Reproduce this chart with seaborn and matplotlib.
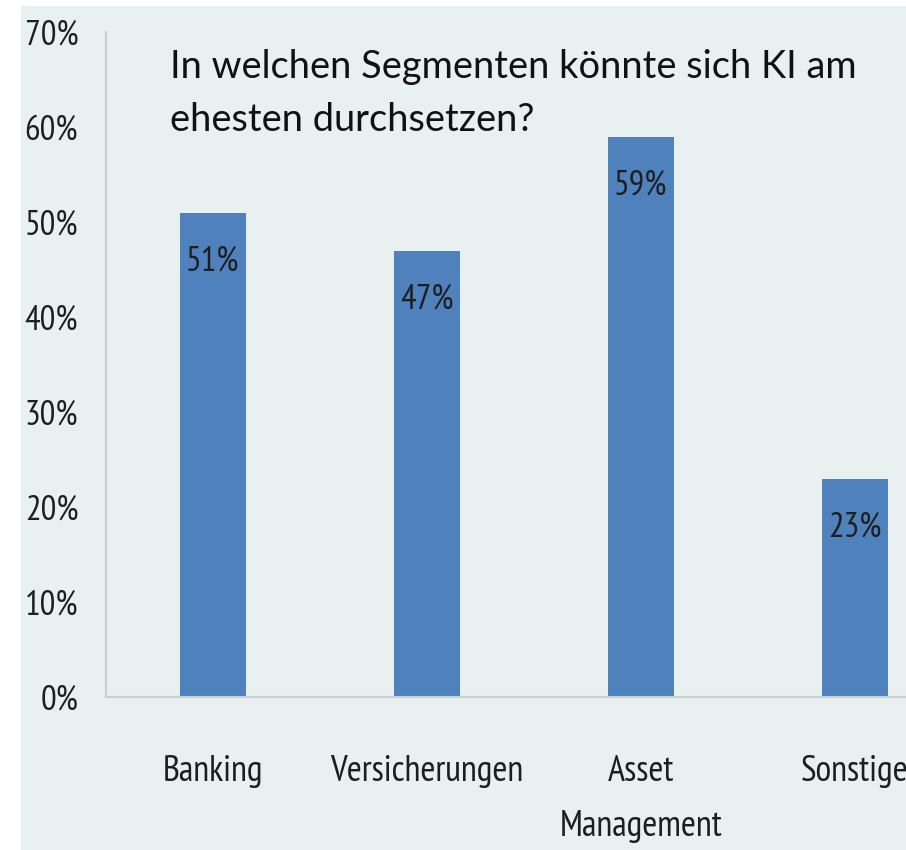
import matplotlib
matplotlib.use("Agg")
import matplotlib.pyplot as plt
from matplotlib import font_manager
from matplotlib.patches import Rectangle
import seaborn as sns
import pandas as pd

categories = ["Banking", "Versicherungen", "Asset\nManagement", "Sonstige"]
values = [51, 47, 59, 23]
value_labels = ["51%", "47%", "59%", "23%"]
yticks = [0, 10, 20, 30, 40, 50, 60, 70]
ytick_labels = ["0%", "10%", "20%", "30%", "40%", "50%", "60%", "70%"]
title = "In welchen Segmenten könnte sich KI am\nehesten durchsetzen?"

names = {f.name for f in font_manager.fontManager.ttflist}
def pick(*fams):
    for f in fams:
        if f in names:
            return f
    return "DejaVu Sans"
narrow = pick("PT Sans Narrow", "Barlow Condensed", "Roboto Condensed", "Liberation Sans Narrow")
title_font = pick("Lato", "Open Sans", "Noto Sans")

sns.set_theme(style="white")
plt.rcParams["font.family"] = [narrow, "DejaVu Sans"]

W, H = 906, 850
fig = plt.figure(figsize=(W / 100, H / 100), dpi=100)
fig.patch.set_facecolor("white")
panel = "#E9F0F0"
fig.patches.append(Rectangle((21 / W, 0), 1 - 21 / W, 1 - 6 / H, transform=fig.transFigure,
                             facecolor=panel, edgecolor="none", zorder=-10))

ax = fig.add_axes([106 / W, 153 / H, 1 - 106 / W, (697 - 32) / H])
ax.set_facecolor(panel)

df = pd.DataFrame({"cat": categories, "val": values})
sns.barplot(data=df, x="cat", y="val", color="#4F81BD", saturation=1, width=0.31,
            linewidth=0, ax=ax)

ax.set_ylim(0, 70)
ax.set_xlim(-0.5, 3.24)
ax.set_yticks(yticks)
ax.set_yticklabels(ytick_labels, fontsize=25, color="#1e1e1e")
ax.tick_params(axis="y", length=0, pad=20)
ax.tick_params(axis="x", length=0, pad=42, labelsize=26, labelcolor="#1e1e1e")
for lbl in ax.get_xticklabels():
    lbl.set_linespacing(1.85)
ax.set_xlabel("")
ax.set_ylabel("")
for s in ["top", "right"]:
    ax.spines[s].set_visible(False)
for s in ["left", "bottom"]:
    ax.spines[s].set_color("#C9CFCF")
    ax.spines[s].set_linewidth(1.5)

for i, (v, t) in enumerate(zip(values, value_labels)):
    ax.annotate(t, xy=(i, v), xytext=(0, -49), textcoords="offset pixels",
                ha="center", va="center", fontsize=25, color="#1e1e1e")

fig.text(170 / W, 1 - 49 / H, title, ha="left", va="top", fontsize=27.4,
         family=[title_font, "DejaVu Sans"], color="#111111", linespacing=1.58)

fig.savefig("out.png", dpi=100, facecolor="white")
